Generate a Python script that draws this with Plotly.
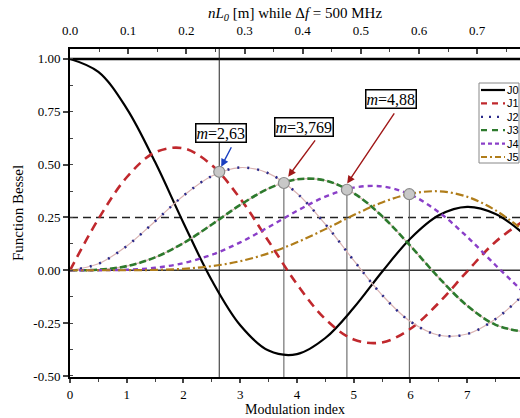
import plotly.graph_objects as go

# Modulation index samples
m = [0, 0.5, 1, 1.5, 2, 2.5, 3, 3.5, 4, 4.5, 5, 5.5, 6, 6.5, 7, 7.5, 8]
J0 = [1.0, 0.9385, 0.7652, 0.5118, 0.2239, -0.0484, -0.2601, -0.3801, -0.3971, -0.3205, -0.1776, -0.0068, 0.1506, 0.2601, 0.3001, 0.2663, 0.1717]
J1 = [0.0, 0.2423, 0.4401, 0.5579, 0.5767, 0.4971, 0.3391, 0.1374, -0.0660, -0.2311, -0.3276, -0.3414, -0.2767, -0.1538, -0.0047, 0.1352, 0.2346]
J2 = [0.0, 0.0306, 0.1149, 0.2321, 0.3528, 0.4461, 0.4861, 0.4586, 0.3641, 0.2178, 0.0466, -0.1173, -0.2429, -0.3074, -0.3014, -0.2303, -0.1130]
J3 = [0.0, 0.0026, 0.0196, 0.0610, 0.1289, 0.2166, 0.3091, 0.3868, 0.4302, 0.4247, 0.3648, 0.2561, 0.1148, -0.0353, -0.1676, -0.2581, -0.2911]
J4 = [0.0, 0.0002, 0.0025, 0.0118, 0.0340, 0.0738, 0.1320, 0.2044, 0.2811, 0.3484, 0.3912, 0.3967, 0.3576, 0.2748, 0.1578, 0.0238, -0.1054]
J5 = [0.0, 0.0000, 0.0002, 0.0018, 0.0070, 0.0195, 0.0430, 0.0804, 0.1321, 0.1947, 0.2611, 0.3209, 0.3621, 0.3736, 0.3479, 0.2835, 0.1858]
series_names = ["J0", "J1", "J2", "J3", "J4", "J5"]

# Crossing points marked
cross_m = [2.63, 3.769, 4.88, 5.98]
cross_v = [0.466, 0.413, 0.381, 0.360]
labels = ["<i>m</i>=2,63", "<i>m</i>=3,769", "<i>m</i>=4,88"]

y_ticks = [-0.5, -0.25, 0, 0.25, 0.5, 0.75, 1.0]
y_text = ["-0.50", "-0.25", "0.00", "0.25", "0.50", "0.75", "1.00"]
x_ticks = [0, 1, 2, 3, 4, 5, 6, 7]
top_ticks = [0.0, 0.1, 0.2, 0.3, 0.4, 0.5, 0.6, 0.7]

XR = [0, 7.93]
YR = [-0.505, 1.047]
FONT = "Liberation Serif, Times New Roman, serif"

styles = [
    dict(color="black", width=2.2),
    dict(color="#c0282d", width=2.6, dash="9px,6px"),
    dict(color="#2a2a8a", width=2.5, dash="2px,8px"),
    dict(color="#2d7a2d", width=2.6, dash="7px,3px"),
    dict(color="#8a3fc8", width=2.4, dash="5px,4px"),
    dict(color="#b07d1a", width=2.2, dash="8px,3px,2px,3px"),
]
legend_dash = [None, "6px,5px", "2px,6px", "6px,5px", "4px,3px", "6px,3px,2px,3px"]

# plot area in pixels
L, T, B = 70, 49, 41
PW, PH = 520 - L, 418 - T - B

fig = go.Figure()

# reference horizontal lines
fig.add_trace(go.Scatter(x=XR, y=[0, 0], mode="lines", line=dict(color="#333", width=1.5), showlegend=False, hoverinfo="skip"))
fig.add_trace(go.Scatter(x=XR, y=[1, 1], mode="lines", line=dict(color="black", width=2.5), showlegend=False, hoverinfo="skip"))
fig.add_trace(go.Scatter(x=XR, y=[0.25, 0.25], mode="lines", line=dict(color="#222", width=1.5, dash="8px,5px"), showlegend=False, hoverinfo="skip"))

# vertical lines
fig.add_trace(go.Scatter(x=[cross_m[0], cross_m[0]], y=YR, mode="lines", line=dict(color="#222", width=1), showlegend=False, hoverinfo="skip"))
for xm, ym in zip(cross_m[1:], cross_v[1:]):
    fig.add_trace(go.Scatter(x=[xm, xm], y=[ym, YR[0]], mode="lines", line=dict(color="#555", width=1), showlegend=False, hoverinfo="skip"))

sp = dict(shape="spline", smoothing=1.0)
series = [J0, J1, J2, J3, J4, J5]
for i, (nm, ys, st) in enumerate(zip(series_names, series, styles)):
    if i in (2, 3):
        fig.add_trace(go.Scatter(x=m, y=ys, mode="lines", line=dict(color="#d9b3b3", width=1.2, **sp),
                                 showlegend=False, hoverinfo="skip"))
    fig.add_trace(go.Scatter(x=m, y=ys, name=nm, mode="lines", line=dict(**st, **sp), showlegend=False))

fig.add_trace(go.Scatter(x=cross_m, y=cross_v, mode="markers",
                         marker=dict(size=11, color="#c8c8c8", line=dict(color="#8a8a8a", width=1.2)),
                         showlegend=False, hoverinfo="skip"))

# invisible trace for top axis
fig.add_trace(go.Scatter(x=[0, 0.7], y=[0, 0], xaxis="x2", mode="markers", marker=dict(opacity=0), showlegend=False, hoverinfo="skip"))

# label boxes
box_pos = [(2.654, 0.650), (4.127, 0.679), (5.653, 0.811)]
for (bx, by), t in zip(box_pos, labels):
    fig.add_annotation(x=bx, y=by, text=t, showarrow=False, font=dict(family=FONT, size=16, color="black"),
                       bgcolor="white", bordercolor="black", borderwidth=1.5, borderpad=0)

arrows = [((2.857, 0.589), (2.665, 0.49), "#1a3fc0"),
          ((4.339, 0.622), (3.845, 0.443), "#a01818"),
          ((5.732, 0.750), (4.885, 0.41), "#a01818")]
for (tx, ty), (hx, hy), c in arrows:
    fig.add_annotation(x=hx, y=hy, ax=tx, ay=ty, axref="x", ayref="y", text="", showarrow=True,
                       arrowhead=2, arrowsize=1.1, arrowwidth=1.4, arrowcolor=c)

# custom compact legend
def px(xp):
    return (xp - L) / PW

def py(yp):
    return (T + PH - yp) / PH

fig.add_shape(type="rect", xref="paper", yref="paper", x0=px(479), x1=px(519), y0=py(163), y1=py(83),
              line=dict(color="#888", width=1), fillcolor="white", layer="above")
for i, (nm, st) in enumerate(zip(series_names, styles)):
    yc = 90 + i * 13.4
    ln = dict(color=st["color"], width=2.2)
    if legend_dash[i]:
        ln["dash"] = legend_dash[i]
    fig.add_shape(type="line", xref="paper", yref="paper", x0=px(481), x1=px(505), y0=py(yc), y1=py(yc),
                  line=ln, layer="above")
    fig.add_annotation(xref="paper", yref="paper", x=px(505), y=py(yc), text=nm, showarrow=False,
                       xanchor="left", yanchor="middle", font=dict(family="Liberation Sans, Arial", size=11, color="black"))

fig.update_layout(
    width=520, height=418,
    margin=dict(l=L, r=0, t=T, b=B),
    paper_bgcolor="white", plot_bgcolor="white",
    font=dict(family=FONT, size=13, color="black"),
    showlegend=False,
    xaxis=dict(range=XR, tickvals=x_ticks, ticks="outside", ticklen=4, tickwidth=1.5, ticklabelstandoff=0,
               showline=True, linecolor="black", linewidth=2, showgrid=False, zeroline=False,
               minor=dict(dtick=0.5, ticks="outside", ticklen=3, tickwidth=1.2, showgrid=False),
               title=dict(text="Modulation index", standoff=1, font=dict(size=14))),
    xaxis2=dict(range=[0, 0.7735], overlaying="x", side="top", tickvals=top_ticks, tickformat=".1f",
                ticks="inside", ticklen=5, tickwidth=1.5, ticklabelstandoff=7,
                showline=True, linecolor="black", linewidth=2,
                showgrid=False, zeroline=False,
                minor=dict(dtick=0.05, ticks="inside", ticklen=3, tickwidth=1.2, showgrid=False),
                title=dict(text="<i>nL</i><sub><i>0</i></sub> [m] while Δ<i>f</i> = 500 MHz", standoff=1, font=dict(size=15))),
    yaxis=dict(range=YR, tickvals=y_ticks, ticktext=y_text, ticks="outside", ticklen=5, tickwidth=1.5,
               showline=True, linecolor="black", linewidth=2, showgrid=False, zeroline=False,
               minor=dict(dtick=0.125, ticks="inside", ticklen=3, tickwidth=1.2, showgrid=False),
               title=dict(text="Function Bessel", standoff=6, font=dict(size=15))),
)

fig.write_html("out.html", config={"displayModeBar": False},
               post_script="document.body.style.margin='0';document.body.style.overflow='hidden';")
